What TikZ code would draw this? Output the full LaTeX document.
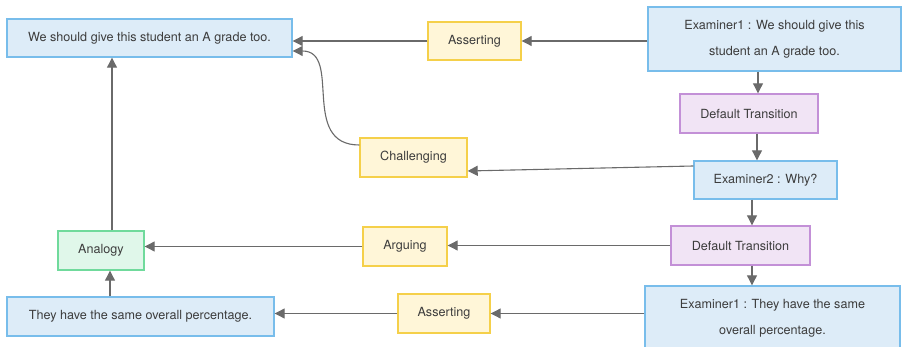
\documentclass[tikz,border=0pt]{standalone}
\usepackage{fontspec}
\setmainfont{TeX Gyre Heros}
\usetikzlibrary{arrows.meta}
\definecolor{bluefill}{HTML}{DDECF8}
\definecolor{blueline}{HTML}{78BDEB}
\definecolor{yelfill}{HTML}{FFF6D8}
\definecolor{yelline}{HTML}{F5D04A}
\definecolor{purfill}{HTML}{F1E4F5}
\definecolor{purline}{HTML}{C390D7}
\definecolor{grnfill}{HTML}{E0F7EA}
\definecolor{grnline}{HTML}{70DA9C}
\definecolor{txt}{HTML}{3C3C3C}
\definecolor{arrline}{HTML}{6A6A6A}
\begin{document}
\begin{tikzpicture}[x=1pt,y=-1pt,
  box/.style={draw,line width=1.4pt,inner sep=0pt,text=txt,align=center,
    font=\fontsize{12.6}{26}\selectfont},
  bluebox/.style={box,fill=bluefill,draw=blueline},
  yelbox/.style={box,fill=yelfill,draw=yelline},
  purbox/.style={box,fill=purfill,draw=purline},
  grnbox/.style={box,fill=grnfill,draw=grnline},
  arr/.style={draw=arrline,line width=1.1pt,-{Triangle[length=10pt,width=10pt]}}]
\useasboundingbox (0,0) rectangle (902,347);
\clip (0,0) rectangle (902,347);
\fill[white] (0,0) rectangle (902,347);

\node[bluebox,minimum width=285pt,minimum height=38pt] (n1) at (149.5,38) {We should give this student an A grade too.};
\node[yelbox,minimum width=93pt,minimum height=38pt] (as1) at (474.5,41) {Asserting};
\node[bluebox,minimum width=253pt,minimum height=64pt] (ex1) at (774.5,39) {Examiner1 : We should give this\\student an A grade too.};
\node[purbox,minimum width=138pt,minimum height=39pt] (dt1) at (749,113.5) {Default Transition};
\node[bluebox,minimum width=143pt,minimum height=38pt] (ex2) at (765.5,180) {Examiner2 : Why?};
\node[yelbox,minimum width=107pt,minimum height=39pt] (ch) at (413.5,157.5) {Challenging};
\node[purbox,minimum width=139pt,minimum height=39pt] (dt2) at (740.5,245.5) {Default Transition};
\node[yelbox,minimum width=84pt,minimum height=39pt] (ar) at (405,246.5) {Arguing};
\node[grnbox,minimum width=86pt,minimum height=39pt] (an) at (101,250.5) {Analogy};
\node[bluebox,minimum width=267pt,minimum height=39pt] (n2) at (140.5,316.5) {They have the same overall percentage.};
\node[yelbox,minimum width=92pt,minimum height=39pt] (as2) at (444,313.5) {Asserting};
\node[bluebox,minimum width=255pt,minimum height=64pt] (ex3) at (772.5,318) {Examiner1 : They have the same\\overall percentage.};

\coordinate (c1) at (758,0);
\coordinate (c2) at (757,0);
\coordinate (c3) at (752,0);
\coordinate (c4) at (112,0);
\coordinate (c5) at (110,0);

\draw[arr] (ex1.west |- as1.east) -- (as1.east);
\draw[arr] (as1.west) -- (as1.west -| n1.east);
\draw[arr] (ex1.south -| c1) -- (dt1.north -| c1);
\draw[arr] (dt1.south -| c2) -- (ex2.north -| c2);
\draw[arr] ([yshift=14pt]ex2.west) -- ([yshift=-13.5pt]ch.east);
\draw[arr] ([yshift=12.5pt]ch.west) .. controls +(-60,0) and +(50,0) .. ([yshift=-13pt]n1.east);
\draw[arr] (ex2.south -| c3) -- (dt2.north -| c3);
\draw[arr] (dt2.west) -- (dt2.west -| ar.east);
\draw[arr] (ar.west) -- (ar.west -| an.east);
\draw[arr] (an.north -| c4) -- (n1.south -| c4);
\draw[arr] (n2.north -| c5) -- (an.south -| c5);
\draw[arr] (dt2.south -| c3) -- (ex3.north -| c3);
\draw[arr] (ex3.west |- as2.east) -- (as2.east);
\draw[arr] (as2.west) -- (as2.west -| n2.east);
\end{tikzpicture}
\end{document}
